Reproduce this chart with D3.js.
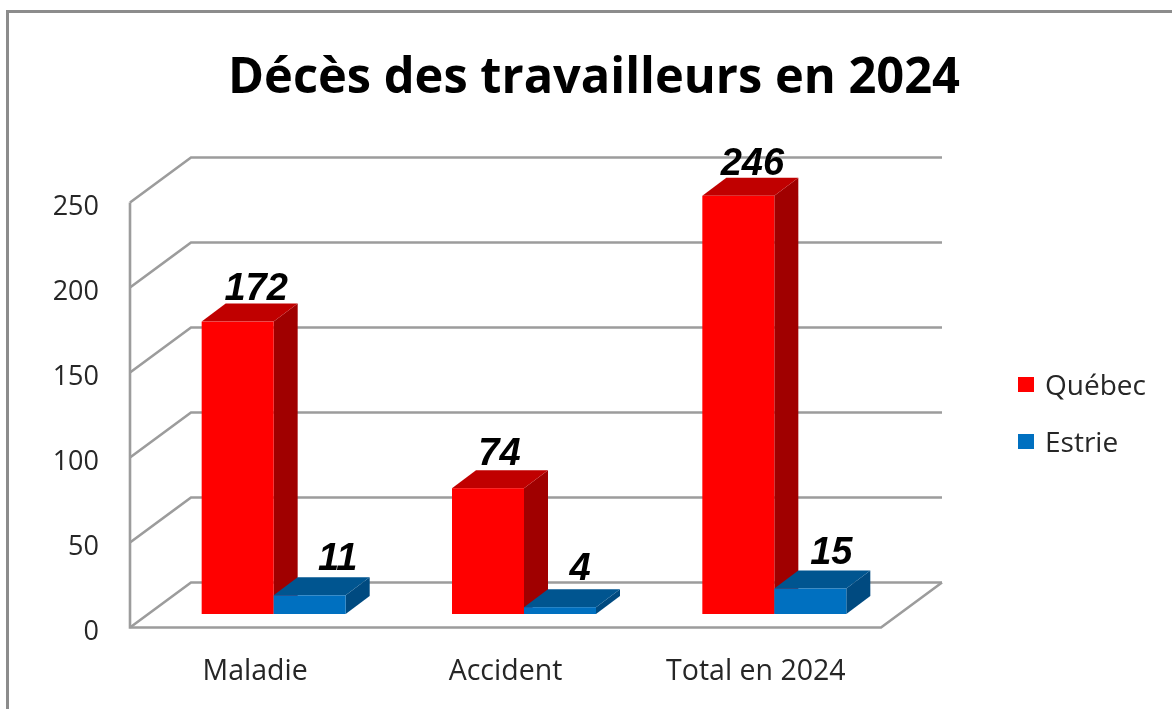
<!DOCTYPE html>
<html><head><meta charset="utf-8">
<script src="https://cdn.jsdelivr.net/npm/d3@7"></script>
<style>html,body{margin:0;padding:0;background:#fff;overflow:hidden}svg{display:block;filter:blur(0.45px)}</style>
</head><body><svg id="c" width="1172" height="709"></svg>
<script>
const title = "Décès des travailleurs en 2024";
const categories = ["Maladie", "Accident", "Total en 2024"];
const seriesNames = ["Québec", "Estrie"];
const quebec = [172, 74, 246];
const estrie = [11, 4, 15];
const yTicks = [0, 50, 100, 150, 200, 250];
const fill = ["#ff0000", "#0070c0"];
const topFill = ["#c00000", "#005590"];
const sideFill = ["#a00000", "#004a80"];
const grid = "#9c9c9c", ink = "#262626";
// hand placement of the value labels, as in the source chart
const labelNudgeX = [[18.5, 11.5, 14], [28, 20, 21]];
const labelNudgeY = [[4, 5, 3], [7, 9, 7]];

const svg = d3.select("#c");
const W = 1172, H = 709;
const floorY = 627.5, wallDx = 61, wallDy = 45, barDx = 24, barDy = 18;
const plotL = 130, plotR = 881;
const y = d3.scaleLinear().domain([0, 250]).range([floorY, floorY - 425]);
const x0 = d3.scaleBand().domain(categories).range([plotL, plotR]);
const barW = 72;
const insetX = (wallDx - barDx) / 2, insetY = (wallDy - barDy) / 2;

// frame
svg.append("path").attr("d", `M${W},11.5H7.5V${H}`).attr("fill", "none").attr("stroke", "#8c8c8c").attr("stroke-width", 3);

// title
svg.append("text").attr("x", 594).attr("y", 93).attr("text-anchor", "middle")
  .attr("font-family", "'Open Sans'").attr("font-weight", 700).attr("font-size", 50)
  .attr("textLength", 732).attr("lengthAdjust", "spacingAndGlyphs").attr("fill", "#000").text(title);

// walls
const g = svg.append("g").attr("fill", "none").attr("stroke", grid).attr("stroke-width", 2.6);
yTicks.forEach(t => {
  const yy = y(t);
  g.append("path").attr("d", `M${plotL},${yy}L${plotL + wallDx},${yy - wallDy}H${plotR + wallDx}`);
});
g.append("path").attr("d", `M${plotL},${y(250)}V${floorY}H${plotR}L${plotR + wallDx},${floorY - wallDy}`);

// y ticks
svg.append("g").selectAll("text").data(yTicks).join("text")
  .attr("x", 99).attr("y", d => y(d) + 12).attr("text-anchor", "end")
  .attr("font-family", "'Open Sans'").attr("font-size", 27).attr("fill", ink).text(d => d);

// bars
const series = [quebec, estrie];
const base = floorY - insetY;
const h = v => y(0) - y(v);
categories.forEach((c, i) => {
  const cx = x0(c) + x0.bandwidth() / 2 + insetX;
  series.forEach((vals, s) => {
    const v = vals[i], l = cx - barW + s * barW, r = l + barW, t = base - h(v);
    const b = svg.append("g");
    b.append("path").attr("fill", sideFill[s]).attr("d", `M${r},${t}L${r + barDx},${t - barDy}V${base - barDy}L${r},${base}Z`);
    b.append("path").attr("fill", topFill[s]).attr("d", `M${l},${t}L${l + barDx},${t - barDy}H${r + barDx}L${r},${t}Z`);
    b.append("rect").attr("x", l).attr("y", t).attr("width", barW).attr("height", h(v)).attr("fill", fill[s]);
  });
});
// value labels
categories.forEach((c, i) => {
  const cx = x0(c) + x0.bandwidth() / 2 + insetX;
  series.forEach((vals, s) => {
    const v = vals[i], l = cx - barW + s * barW, t = base - h(v);
    svg.append("text").attr("x", l + barW / 2 + labelNudgeX[s][i]).attr("y", t - barDy - labelNudgeY[s][i])
      .attr("text-anchor", "middle").attr("font-family", "'Liberation Sans'")
      .attr("font-weight", 700).attr("font-style", "italic").attr("font-size", 38).attr("fill", "#000").text(v);
  });
});

// category labels
svg.append("g").selectAll("text").data(categories).join("text")
  .attr("x", d => x0(d) + x0.bandwidth() / 2).attr("y", 680).attr("text-anchor", "middle")
  .attr("font-family", "'Open Sans'").attr("font-size", 28.5).attr("fill", ink).text(d => d);

// legend
const lg = svg.append("g").selectAll("g").data(seriesNames).join("g")
  .attr("transform", (d, i) => `translate(1018,${377 + i * 57})`);
lg.append("rect").attr("width", 16).attr("height", 15).attr("fill", (d, i) => fill[i]);
lg.append("text").attr("x", 27).attr("y", 18).attr("font-family", "'Open Sans'").attr("font-size", 28).attr("fill", ink).text(d => d);
</script></body></html>
